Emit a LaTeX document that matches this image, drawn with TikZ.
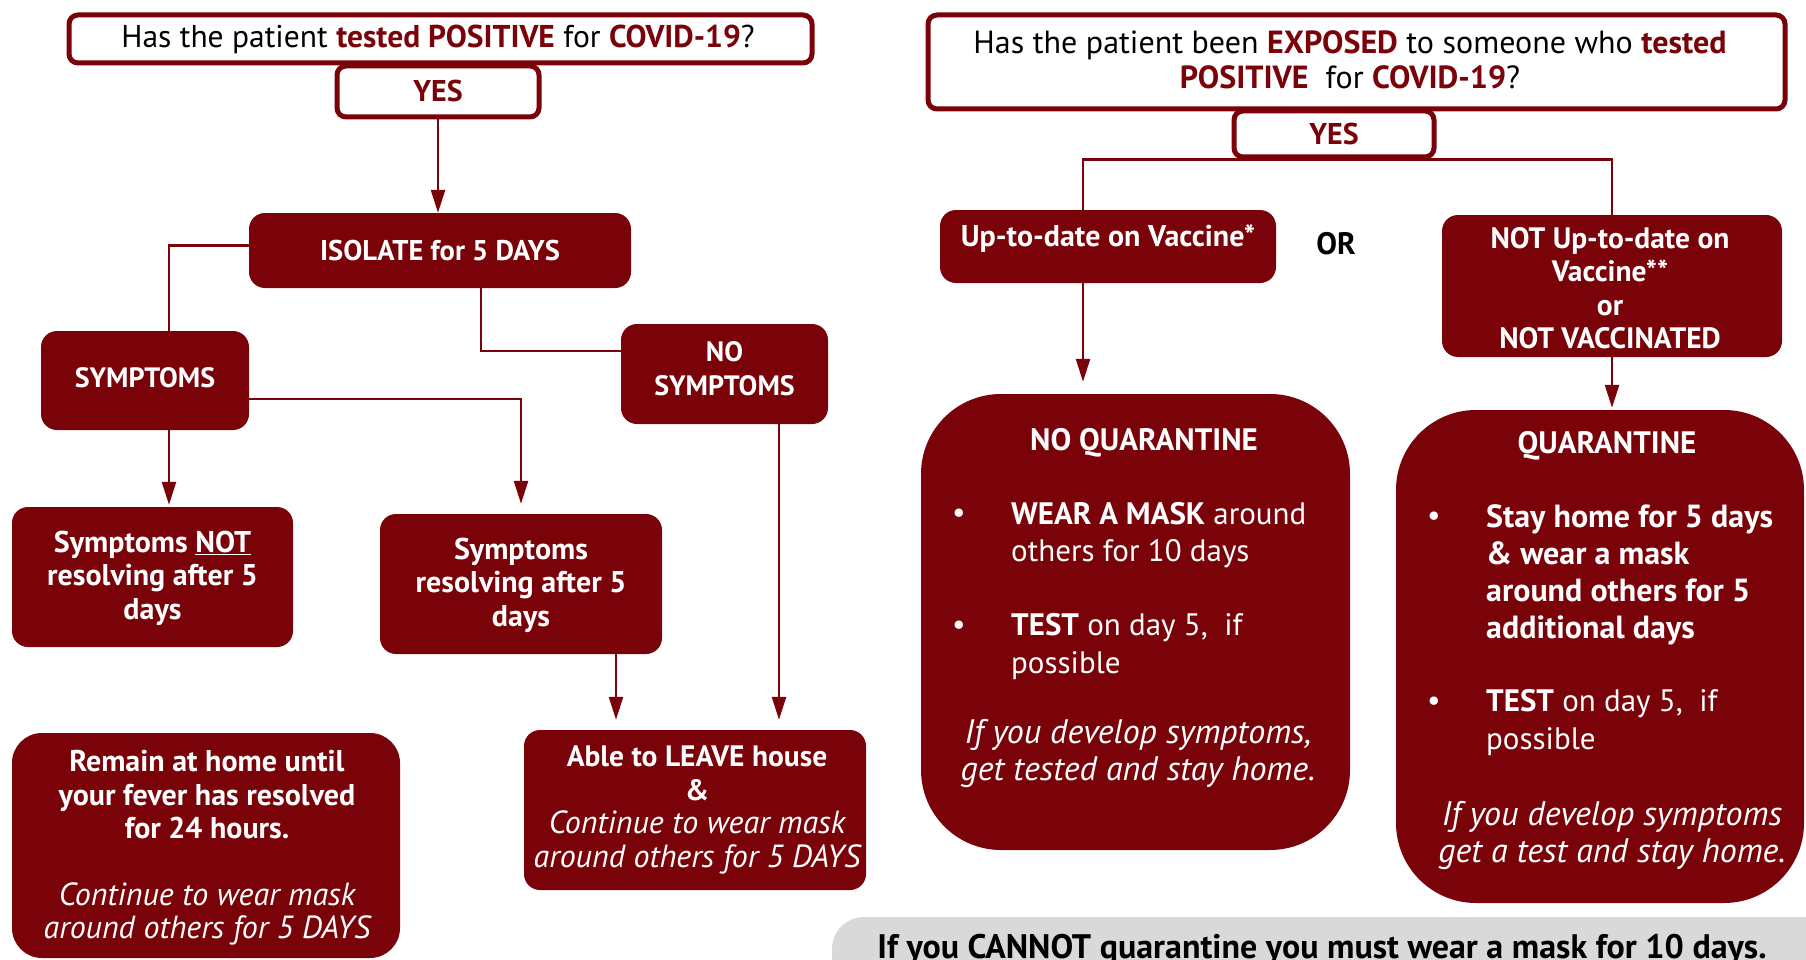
\documentclass[tikz,border=0pt]{standalone}
\usepackage{fontspec}
\setmainfont{PT Sans}
\usetikzlibrary{arrows.meta}
\definecolor{mred}{HTML}{7A0209}
\definecolor{mgray}{HTML}{D9D9D9}
\tikzset{
  redbox/.style={fill=mred, draw=none, rounded corners=16pt, inner sep=0pt},
  bigbox/.style={fill=mred, draw=none, rounded corners=80pt, inner sep=0pt},
  whitebox/.style={draw=mred, line width=5pt, fill=white, rounded corners=9pt, inner sep=0pt},
  wtxt/.style={text=white, align=center, inner sep=0pt, font=\bfseries\fontsize{29.5}{33.4}\selectfont},
  btxt/.style={text=white, align=left, inner sep=0pt, font=\fontsize{31}{37.5}\selectfont},
  itxt/.style={text=white, align=center, inner sep=0pt, font=\itshape\fontsize{34}{37}\selectfont},
  bul/.style={text=white, inner sep=0pt, font=\fontsize{30}{30}\selectfont},
  conn/.style={draw=mred, line width=2.6pt},
  arr/.style={conn, -{Triangle[length=23pt, width=14pt]}},
}
\newcommand{\rb}[1]{\textcolor{mred}{\textbf{#1}}}
\newcommand{\itl}[1]{{\mdseries\itshape\fontsize{32}{33.4}\selectfont #1}}
\begin{document}
\begin{tikzpicture}[x=1pt, y=-1pt]
\useasboundingbox (0,0) rectangle (1806,960);
\clip (0,0) rectangle (1806,960);

% ---------- left part ----------
\node[whitebox, minimum width=743pt, minimum height=48pt] (qL) at (440.5,39) {};
\node[inner sep=0pt, font=\fontsize{31.5}{36}\selectfont] at (438,39) {Has the patient \rb{tested POSITIVE} for \rb{COVID-19}?};
\node[whitebox, minimum width=202pt, minimum height=51pt, text=mred, font=\bfseries\fontsize{30}{30}\selectfont] (yesL) at (438,91.5) {YES};

\node[redbox, minimum width=382pt, minimum height=75pt, text=white, font=\bfseries\fontsize{28.5}{30}\selectfont] (iso) at (440,250.5) {ISOLATE for 5 DAYS};

\node[redbox, minimum width=208pt, minimum height=99pt] (sym) at (145,380.5) {};
\node[wtxt, font=\bfseries\fontsize{28}{33.4}\selectfont] at (145,378) {SYMPTOMS};

\node[redbox, minimum width=207pt, minimum height=100pt] (nosym) at (724.5,374) {};
\node[wtxt, font=\bfseries\fontsize{28}{34.5}\selectfont] at (724.5,368.5) {NO\\SYMPTOMS};

\node[redbox, minimum width=281pt, minimum height=140pt] (symnot) at (152.5,577) {};
\node[wtxt, font=\bfseries\fontsize{30}{33.4}\selectfont] at (152.5,578) {Symptoms \underline{NOT}\\resolving after 5\\days};

\node[redbox, minimum width=282pt, minimum height=140pt] (res) at (521,584) {};
\node[wtxt, font=\bfseries\fontsize{30}{33.4}\selectfont] at (521,585) {Symptoms\\resolving after 5\\days};

\node[redbox, minimum width=342pt, minimum height=160pt] (able) at (695,810) {};
\node[wtxt] at (697,810) {Able to LEAVE house\\\&\\\itl{Continue to wear mask}\\\itl{around others for 5 DAYS}};

\node[redbox, rounded corners=30pt, minimum width=388pt, minimum height=225pt] (remain) at (206,845.5) {};
\node[wtxt, font=\bfseries\fontsize{30}{33.4}\selectfont] at (207,848) {Remain at home until\\your fever has resolved\\for 24 hours.\\[33.4pt]\itl{Continue to wear mask}\\\itl{around others for 5 DAYS}};

\draw[arr] (yesL.south) -- (yesL.south |- iso.north);
\draw[conn] ([yshift=5pt]iso.west) -| ([xshift=24pt]sym.north);
\draw[conn] ([xshift=41pt]iso.south) |- ([yshift=23pt]nosym.west);
\draw[arr, shorten >=2pt] ([xshift=24pt]sym.south) -- ([xshift=24pt]sym.south |- symnot.north);
\draw[arr, shorten >=10pt] ([yshift=-18.5pt]sym.east) -| (res.north);
\draw[arr, shorten >=10pt] ([xshift=95pt]res.south) -- ([xshift=95pt]res.south |- able.north);
\draw[arr, shorten >=10pt] ([xshift=54.5pt]nosym.south) -- ([xshift=54.5pt]nosym.south |- able.north);

% ---------- right part ----------
\node[whitebox, minimum width=857pt, minimum height=94pt] (qR) at (1356.5,62) {};
\node[inner sep=0pt, align=center, font=\fontsize{32}{35}\selectfont] at (1350,60) {Has the patient been \rb{EXPOSED} to someone who \rb{tested}\\\rb{POSITIVE}\ \ for \rb{COVID-19}?};
\node[whitebox, minimum width=200pt, minimum height=46pt, text=mred, font=\bfseries\fontsize{30}{30}\selectfont] (yesR) at (1334,134) {YES};

\node[redbox, minimum width=336pt, minimum height=73pt] (up) at (1108,246.5) {};
\node[wtxt, font=\bfseries\fontsize{30}{33.4}\selectfont] at (1108,239) {Up-to-date on Vaccine*};
\node[inner sep=0pt, font=\bfseries\fontsize{31}{30}\selectfont] (or) at (1336,244) {OR};

\node[redbox, minimum width=340pt, minimum height=142pt] (notb) at (1612,286) {};
\node[wtxt] at (1610,288) {NOT Up-to-date on\\Vaccine**\\or\\NOT VACCINATED};

\node[bigbox, minimum width=429pt, minimum height=456pt] (noq) at (1135.5,622) {};
\node[inner sep=0pt, text=white, font=\bfseries\fontsize{31}{30}\selectfont] at (1144,443) {NO QUARANTINE};
\node[bul] at (959,516) {•};
\node[btxt, anchor=west] at (1011,535) {\textbf{WEAR A MASK} around\\others for 10 days};
\node[bul] at (959,628) {•};
\node[btxt, anchor=west] at (1011,646.5) {\textbf{TEST} on day 5,\ \ if\\possible};
\node[itxt] at (1138,753.5) {If you develop symptoms,\\get tested and stay home.};

\node[bigbox, minimum width=408pt, minimum height=493pt] (q) at (1600,656.5) {};
\node[inner sep=0pt, text=white, font=\bfseries\fontsize{31}{30}\selectfont] at (1607,446) {QUARANTINE};
\node[bul] at (1434,519) {•};
\node[btxt, anchor=west, font=\bfseries\fontsize{32}{37}\selectfont] at (1486,574.5) {Stay home for 5 days\\\& wear a mask\\around others for 5\\additional days};
\node[bul] at (1434,704) {•};
\node[btxt, anchor=west] at (1486,722.5) {\textbf{TEST} on day 5,\ \ if\\possible};
\node[itxt] at (1612,835) {If you develop symptoms\\get a test and stay home.};

\node[fill=mgray, rounded corners=32pt, minimum width=1018pt, minimum height=100pt, inner sep=0pt] (gray) at (1341,967) {};
\node[inner sep=0pt, font=\bfseries\fontsize{34}{34}\selectfont] at (1322,950) {If you CANNOT quarantine you must wear a mask for 10 days.};

\draw[conn] ([xshift=-25pt]up.north) |- (yesR.south) -| (notb.north);
\draw[arr, shorten >=12pt] ([xshift=-25pt]up.south) -- ([xshift=-25pt]up.south |- noq.north);
\draw[arr, shorten >=2pt] (notb.south) -- (notb.south |- q.north);
\end{tikzpicture}
\end{document}
